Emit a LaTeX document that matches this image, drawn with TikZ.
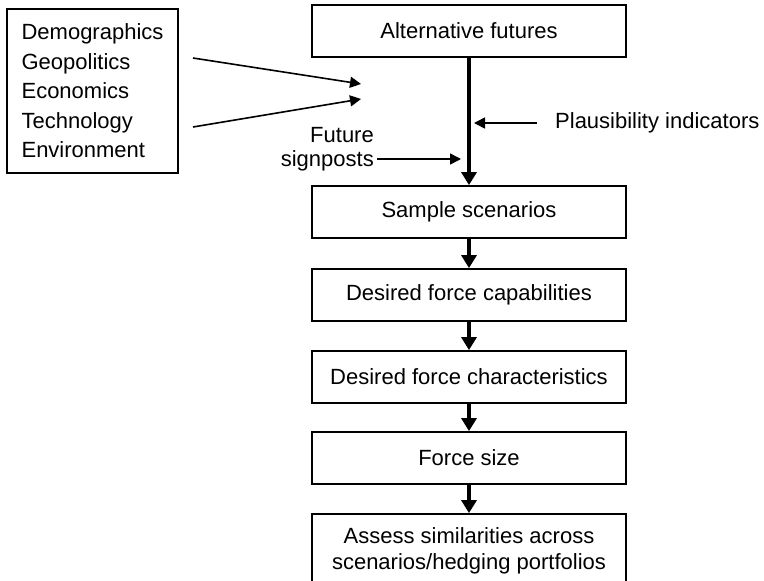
\documentclass[tikz,border=0pt]{standalone}
\usepackage{fontspec}
\setmainfont{Liberation Sans}
\usetikzlibrary{arrows.meta}

\begin{document}
\begin{tikzpicture}[x=1pt,y=-1pt,
    font=\fontsize{22}{26}\selectfont,
    stagebox/.style={draw,line width=1.8pt,minimum width=314pt,
      minimum height=52pt,inner sep=0pt,align=center},
    bigarrow/.style={line width=4pt,-{Triangle[length=13pt,width=15pt]}},
    smallarrow/.style={line width=1.6pt,-{Triangle[length=11pt,width=11pt]}}]
  \useasboundingbox (0,0) rectangle (764,581);
  \def\cx{469} % centre of the stage column

  % Drivers
  \node[draw,line width=1.8pt,minimum width=171pt,minimum height=164pt,
    align=left,font=\fontsize{22}{29.5}\selectfont] (drivers) at (92.5,91)
    {Demographics\\Geopolitics\\Economics\\Technology\\Environment};

  % Stages
  \node[stagebox] (alt) at (\cx,31) {Alternative futures};
  \node[stagebox] (sample) at (\cx,212) {Sample scenarios};
  \node[stagebox] (cap) at (\cx,295) {Desired force capabilities};
  \node[stagebox] (char) at (\cx,377) {Desired force characteristics};
  \node[stagebox] (size) at (\cx,458) {Force size};
  \node[stagebox,minimum height=74pt] (assess) at (\cx,551)
    {Assess similarities across\\scenarios/hedging portfolios};

  % Spine and chain
  \draw[bigarrow] (alt) -- (sample);
  \foreach \a/\b in {sample/cap,cap/char,char/size,size/assess}
    {\draw[bigarrow] (\a) -- (\b);}

  % Side labels
  \node[anchor=west,inner sep=0pt] (plaus) at (555,123) {Plausibility indicators};
  \node[anchor=east,align=right,inner sep=0pt,
    font=\fontsize{22}{24}\selectfont] (signs) at (374,149) {Future\\signposts};

  \coordinate (plaustip) at (474,123);
  \coordinate (signtail) at (377,159);
  \coordinate (signtip) at (461,159);
  \coordinate (geotail) at (193,58);
  \coordinate (geotip) at (361,84);
  \coordinate (techtail) at (193,127);
  \coordinate (techtip) at (361,99);

  \draw[smallarrow,shorten <=18pt] (plaus.west) -- (plaustip);
  \draw[smallarrow] (signtail) -- (signtip);
  \draw[smallarrow] (geotail) -- (geotip);
  \draw[smallarrow] (techtail) -- (techtip);
\end{tikzpicture}
\end{document}
